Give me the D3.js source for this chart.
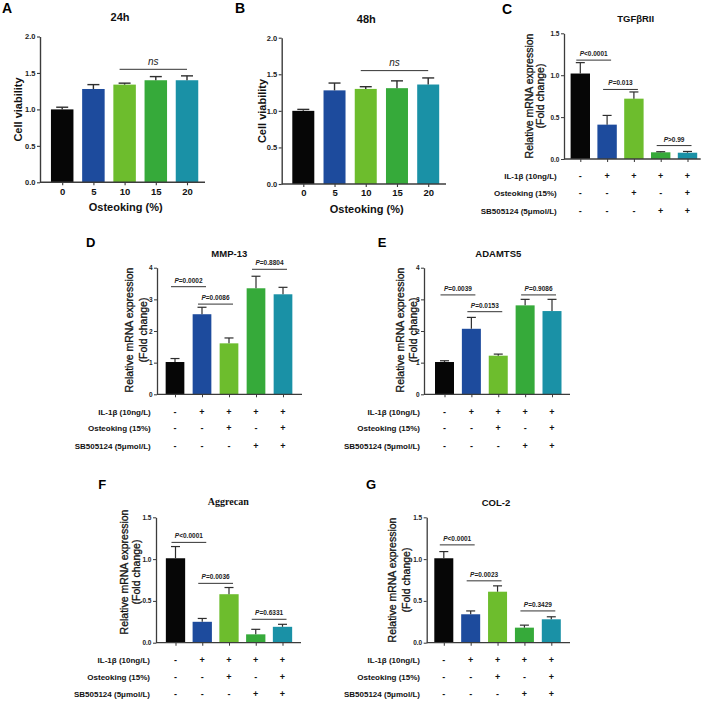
<!DOCTYPE html>
<html><head><meta charset="utf-8">
<script src="https://cdn.jsdelivr.net/npm/d3@7"></script>
<style>
body{margin:0;background:#fff}
svg{display:block}
text{font-family:"Liberation Sans",Arial,sans-serif}
</style>
</head><body>
<svg id="chart" width="708" height="703"></svg>
<script>
// ---------------- DATA ----------------
const doses = ["0", "5", "10", "15", "20"];
const viability24 = [1.00, 1.28, 1.34, 1.40, 1.40];
const viability24Err = [0.03, 0.06, 0.02, 0.05, 0.06];
const viability48 = [1.00, 1.28, 1.30, 1.31, 1.36];
const viability48Err = [0.02, 0.10, 0.03, 0.10, 0.09];

const tgfbr2 = [1.02, 0.41, 0.72, 0.08, 0.075];
const tgfbr2Err = [0.13, 0.11, 0.08, 0.007, 0.015];
const mmp13 = [1.02, 2.53, 1.61, 3.35, 3.16];
const mmp13Err = [0.11, 0.22, 0.17, 0.38, 0.22];
const adamts5 = [1.02, 2.07, 1.22, 2.81, 2.63];
const adamts5Err = [0.04, 0.36, 0.05, 0.19, 0.37];
const aggrecan = [1.01, 0.25, 0.58, 0.10, 0.19];
const aggrecanErr = [0.14, 0.04, 0.08, 0.06, 0.03];
const col2 = [1.01, 0.34, 0.61, 0.18, 0.28];
const col2Err = [0.08, 0.04, 0.07, 0.03, 0.03];

const conditionNames = ["IL-1β (10ng/L)", "Osteoking (15%)", "SB505124 (5μmol/L)"];
const il1bSigns = ["-", "+", "+", "+", "+"];
const osteokingSigns = ["-", "-", "+", "-", "+"];
const sbSigns = ["-", "-", "-", "+", "+"];

// significance brackets: [fromIndex, toIndex, level (data units), label]
const tgfbr2Sig = [[0, 1, 1.18, "<0.0001"], [1, 2, 0.83, "=0.013"], [3, 4, 0.16, ">0.99"]];
const mmp13Sig = [[0, 1, 3.40, "=0.0002"], [1, 2, 2.85, "=0.0086"], [3, 4, 3.95, "=0.8804"]];
const adamts5Sig = [[0, 1, 3.14, "=0.0039"], [1, 2, 2.61, "=0.0153"], [3, 4, 3.14, "=0.9086"]];
const aggrecanSig = [[0, 1, 1.20, "<0.0001"], [1, 2, 0.71, "=0.0036"], [3, 4, 0.28, "=0.6331"]];
const col2Sig = [[0, 1, 1.17, "<0.0001"], [1, 2, 0.74, "=0.0023"], [3, 4, 0.38, "=0.3429"]];
const nsSig = [2, 4, 1.55, "ns"];

const barColors = ["#060606", "#1d4b9d", "#6dbd2d", "#36aa3a", "#1a91a6"];

// ---------------- DRAW ----------------
const svg = d3.select("#chart");
svg.append("rect").attr("width", 708).attr("height", 703).attr("fill", "#fff");
const axisColor = "#3c3c3c";

function drawPanel(cfg) {
  const g = svg.append("g");
  const y = d3.scaleLinear().domain([0, cfg.yMax]).range([cfg.y0, cfg.yTop]);
  const x = d3.scalePoint().domain(d3.range(cfg.values.length)).range([cfg.c0, cfg.c1]);

  // bars
  g.selectAll("rect.bar").data(cfg.values).join("rect")
    .attr("class", "bar")
    .attr("x", (d, i) => x(i) - cfg.bw / 2)
    .attr("width", cfg.bw)
    .attr("y", d => y(d))
    .attr("height", d => y(0) - y(d))
    .attr("fill", (d, i) => barColors[i]);

  // error bars (upper only)
  const eb = g.selectAll("g.eb").data(cfg.values).join("g").attr("class", "eb");
  eb.append("line")
    .attr("x1", (d, i) => x(i)).attr("x2", (d, i) => x(i))
    .attr("y1", d => y(d)).attr("y2", (d, i) => y(d + cfg.errs[i]))
    .attr("stroke", "#2e2e2e").attr("stroke-width", cfg.ebw);
  eb.append("line")
    .attr("x1", (d, i) => x(i) - cfg.cap / 2).attr("x2", (d, i) => x(i) + cfg.cap / 2)
    .attr("y1", (d, i) => y(d + cfg.errs[i])).attr("y2", (d, i) => y(d + cfg.errs[i]))
    .attr("stroke", "#2e2e2e").attr("stroke-width", cfg.ebw);

  // y axis
  const ya = d3.axisLeft(y).tickValues(cfg.ticks).tickSize(cfg.tick).tickSizeOuter(0)
    .tickPadding(cfg.tpad).tickFormat(d3.format(cfg.fmt));
  const yg = g.append("g").attr("transform", `translate(${cfg.ax},0)`).call(ya);
  yg.select(".domain").attr("stroke", axisColor).attr("stroke-width", cfg.aw);
  yg.selectAll(".tick line").attr("stroke", axisColor).attr("stroke-width", cfg.aw * 0.8);
  yg.selectAll(".tick text").attr("font-size", cfg.ytfs).attr("font-weight", "bold")
    .attr("fill", "#222").style("font-family", '"Liberation Sans", Arial, sans-serif');

  // x axis baseline
  g.append("line").attr("x1", cfg.ax).attr("x2", cfg.xEnd)
    .attr("y1", cfg.y0).attr("y2", cfg.y0)
    .attr("stroke", axisColor).attr("stroke-width", cfg.aw);
  const xa = d3.axisBottom(x).tickSize(cfg.tick).tickSizeOuter(0).tickPadding(cfg.xpad || 2)
    .tickFormat(i => cfg.xLabels ? cfg.xLabels[i] : "");
  const xg = g.append("g").attr("transform", `translate(0,${cfg.y0})`).call(xa);
  xg.select(".domain").remove();
  xg.selectAll(".tick line").attr("stroke", axisColor).attr("stroke-width", cfg.aw * 0.8);
  xg.selectAll(".tick text").attr("font-size", cfg.xtfs || 9).attr("font-weight", "bold")
    .attr("fill", "#111").style("font-family", '"Liberation Sans", Arial, sans-serif');

  // significance brackets
  (cfg.sig || []).forEach(s => {
    const [a, b, lv, lab] = s;
    const x1 = x(a) - cfg.sigL, x2 = x(b) + cfg.sigR, yy = y(lv);
    g.append("line").attr("x1", x1).attr("x2", x2).attr("y1", yy).attr("y2", yy)
      .attr("stroke", "#333").attr("stroke-width", 1);
    const t = g.append("text").attr("x", (x1 + x2) / 2).attr("y", yy - cfg.sigGap)
      .attr("text-anchor", "middle").attr("font-size", cfg.sigfs).attr("font-weight", "bold")
      .attr("fill", "#222");
    if (lab === "ns") {
      t.attr("font-style", "italic").attr("font-weight", "normal").text("ns");
    } else {
      t.append("tspan").attr("font-style", "italic").text("P");
      t.append("tspan").text(lab);
    }
  });

  // title
  g.append("text").attr("x", cfg.title[1]).attr("y", cfg.title[2])
    .attr("text-anchor", "middle").attr("font-size", cfg.title[3]).attr("font-weight", "bold")
    .style("font-family", cfg.titleSerif ? '"Liberation Serif", "Times New Roman", serif' : '"Liberation Sans", Arial, sans-serif')
    .attr("fill", "#111").text(cfg.title[0]);

  // panel letter
  g.append("text").attr("x", cfg.letter[1]).attr("y", cfg.letter[2])
    .attr("font-size", cfg.letter[3]).attr("font-weight", "bold").attr("fill", "#000")
    .text(cfg.letter[0]);

  // y labels
  cfg.ylab.forEach(l => {
    const t = g.append("text").attr("transform", `translate(${l[1]},${l[2]}) rotate(-90)`)
      .attr("text-anchor", "middle").attr("font-size", l[3]).attr("font-weight", l[4])
      .attr("fill", "#111").text(l[0]);
    if (l[4] === "normal") t.attr("stroke", "#111").attr("stroke-width", 0.3);
  });

  // x label
  if (cfg.xlab) {
    g.append("text").attr("x", cfg.xlab[1]).attr("y", cfg.xlab[2]).attr("text-anchor", "middle")
      .attr("font-size", cfg.xlab[3]).attr("font-weight", "bold").attr("fill", "#111").text(cfg.xlab[0]);
  }

  // condition rows
  if (cfg.rows) {
    const signs = [il1bSigns, osteokingSigns, sbSigns];
    cfg.rows.forEach((ry, r) => {
      g.append("text").attr("x", cfg.rowX).attr("y", ry).attr("dy", "0.35em")
        .attr("text-anchor", "end").attr("font-size", 8).attr("font-weight", "bold")
        .attr("fill", "#111").text(conditionNames[r]);
      g.selectAll(null).data(signs[r]).join("text")
        .attr("x", (d, i) => x(i)).attr("y", ry).attr("dy", "0.35em")
        .attr("text-anchor", "middle").attr("font-size", 9).attr("font-weight", "bold")
        .attr("fill", "#111").text(d => d);
    });
  }
}

const fmt1 = ".1f";
const abCommon = { yMax: 2.0, ticks: [0, 0.5, 1, 1.5, 2], fmt: fmt1, tick: 3, tpad: 1.5, aw: 1.4,
  ytfs: 7.5, xtfs: 9.5, xpad: 2.5, ebw: 1.4, cap: 12, sigL: 5, sigR: 0, sigGap: 4.5, sigfs: 10 };
const mrnaCommon = { tick: 3, tpad: 1.5, aw: 1.3, ytfs: 6.5, ebw: 1.2, cap: 9,
  sigL: 4, sigR: 4, sigGap: 4, sigfs: 6.5 };

drawPanel(Object.assign({}, abCommon, {
  values: viability24, errs: viability24Err, xLabels: doses,
  ax: 40, y0: 182.3, yTop: 36.5, c0: 62.2, c1: 187, bw: 22.5, xEnd: 205,
  sig: [nsSig], title: ["24h", 120, 20.5, 11], letter: ["A", 2, 13, 14],
  ylab: [["Cell viability", 22.3, 109.5, 11, "bold"]],
  xlab: ["Osteoking (%)", 125.7, 210.5, 11]
}));
drawPanel(Object.assign({}, abCommon, {
  values: viability48, errs: viability48Err, xLabels: doses,
  ax: 281.7, y0: 184, yTop: 37.7, c0: 303.3, c1: 428.2, bw: 22, xEnd: 446,
  sig: [nsSig], title: ["48h", 366.3, 23, 11], letter: ["B", 235, 13, 14],
  ylab: [["Cell viability", 265.7, 111, 11, "bold"]],
  xlab: ["Osteoking (%)", 366.7, 213, 11]
}));
drawPanel(Object.assign({}, mrnaCommon, {
  values: tgfbr2, errs: tgfbr2Err, yMax: 1.5, ticks: [0, 0.5, 1, 1.5], fmt: fmt1,
  ax: 564, y0: 159, yTop: 33.3, c0: 580.3, c1: 687.5, bw: 19.4, xEnd: 700.7,
  sig: tgfbr2Sig, title: ["TGFβRII", 635.7, 21.5, 9.5], letter: ["C", 502, 13.5, 14],
  ylab: [["Relative mRNA expression", 533.2, 96, 10.5, "normal"], ["(Fold change)", 544.2, 96, 10.5, "normal"]],
  rows: [176, 193.3, 210.7], rowX: 556.7
}));
drawPanel(Object.assign({}, mrnaCommon, {
  values: mmp13, errs: mmp13Err, yMax: 4, ticks: [0, 1, 2, 3, 4], fmt: "d",
  ax: 157, y0: 394.3, yTop: 267.7, c0: 175, c1: 283, bw: 18.7, xEnd: 302,
  sig: mmp13Sig, title: ["MMP-13", 229.3, 256.5, 9.5], letter: ["D", 86, 246.5, 13],
  ylab: [["Relative mRNA expression", 132.7, 330, 10.5, "normal"], ["(Fold change)", 146.7, 330, 10.5, "normal"]],
  rows: [411.7, 428.3, 446], rowX: 150.7
}));
drawPanel(Object.assign({}, mrnaCommon, {
  values: adamts5, errs: adamts5Err, yMax: 4, ticks: [0, 1, 2, 3, 4], fmt: "d",
  ax: 424, y0: 394.3, yTop: 267.7, c0: 444.5, c1: 552, bw: 19, xEnd: 570,
  sig: adamts5Sig, title: ["ADAMTS5", 498.3, 256.5, 9.5], letter: ["E", 377.7, 246.5, 13],
  ylab: [["Relative mRNA expression", 403.7, 330, 10.5, "normal"], ["(Fold change)", 417, 330, 10.5, "normal"]],
  rows: [411.7, 428.3, 446], rowX: 420
}));
drawPanel(Object.assign({}, mrnaCommon, {
  values: aggrecan, errs: aggrecanErr, yMax: 1.5, ticks: [0, 0.5, 1, 1.5], fmt: fmt1,
  ax: 156, y0: 642.7, yTop: 517.3, c0: 175.5, c1: 282.5, bw: 19.3, xEnd: 301,
  sig: aggrecanSig, title: ["Aggrecan", 228.3, 505, 10], titleSerif: true, letter: ["F", 98.3, 488.5, 13],
  ylab: [["Relative mRNA expression", 127.9, 572, 10.5, "normal"], ["(Fold change)", 140.4, 572, 10.5, "normal"]],
  rows: [660, 676.7, 694], rowX: 150
}));
drawPanel(Object.assign({}, mrnaCommon, {
  values: col2, errs: col2Err, yMax: 1.5, ticks: [0, 0.5, 1, 1.5], fmt: fmt1,
  ax: 426.7, y0: 642.7, yTop: 517.3, c0: 443.8, c1: 551.3, bw: 19, xEnd: 570,
  sig: col2Sig, title: ["COL-2", 496, 506, 9.5], letter: ["G", 366, 489, 13],
  ylab: [["Relative mRNA expression", 396.2, 580, 10.5, "normal"], ["(Fold change)", 409.7, 580, 10.5, "normal"]],
  rows: [660, 676.7, 694], rowX: 420
}));
</script>
</body></html>
